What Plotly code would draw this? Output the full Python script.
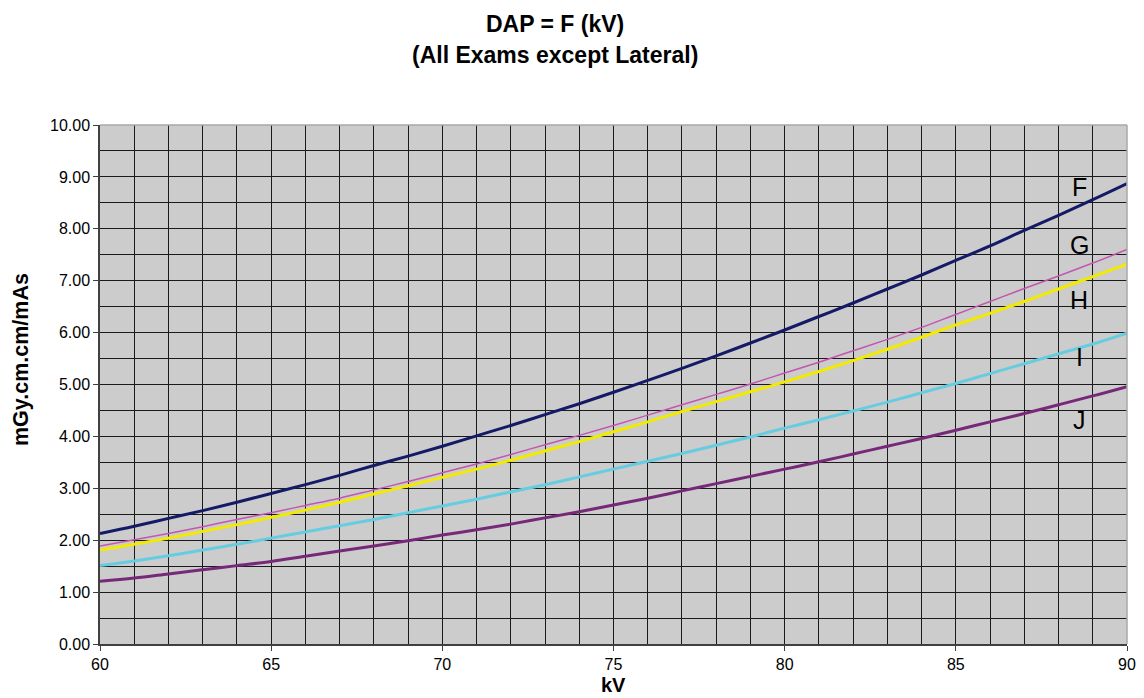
import plotly.graph_objects as go

kv = list(range(60, 91))

F = [2.13, 2.27, 2.42, 2.57, 2.73, 2.90, 3.07, 3.25, 3.44, 3.62, 3.81, 4.01, 4.21, 4.42, 4.63, 4.85,
     5.08, 5.31, 5.55, 5.80, 6.05, 6.31, 6.57, 6.84, 7.11, 7.39, 7.67, 7.97, 8.26, 8.56, 8.87]
G = [1.89, 2.01, 2.13, 2.26, 2.40, 2.53, 2.67, 2.81, 2.97, 3.13, 3.30, 3.47, 3.65, 3.84, 4.02, 4.21,
     4.41, 4.61, 4.81, 5.01, 5.22, 5.43, 5.65, 5.87, 6.10, 6.35, 6.60, 6.85, 7.09, 7.34, 7.60]
H = [1.81, 1.92, 2.04, 2.17, 2.30, 2.44, 2.58, 2.73, 2.89, 3.05, 3.21, 3.37, 3.54, 3.72, 3.90, 4.09,
     4.28, 4.48, 4.67, 4.86, 5.05, 5.25, 5.46, 5.68, 5.91, 6.15, 6.37, 6.60, 6.84, 7.08, 7.32]
I = [1.51, 1.60, 1.70, 1.81, 1.92, 2.04, 2.16, 2.28, 2.40, 2.53, 2.66, 2.79, 2.93, 3.07, 3.22, 3.37,
     3.52, 3.67, 3.83, 3.99, 4.16, 4.32, 4.49, 4.66, 4.84, 5.02, 5.21, 5.40, 5.59, 5.78, 5.99]
J = [1.21, 1.27, 1.35, 1.43, 1.51, 1.59, 1.69, 1.79, 1.89, 1.99, 2.10, 2.20, 2.31, 2.43, 2.55, 2.68,
     2.81, 2.95, 3.09, 3.23, 3.37, 3.51, 3.66, 3.81, 3.96, 4.12, 4.28, 4.44, 4.61, 4.78, 4.96]

series_names = ["F", "G", "H", "I", "J"]
series_values = [F, G, H, I, J]
series_colors = ["#141a66", "#c455b0", "#f2ea00", "#66cce0", "#782878"]
series_widths = [3, 1.5, 3, 3, 3]

label_x = [88.6, 88.6, 88.6, 88.6, 88.6]
label_y = [8.81, 7.69, 6.63, 5.53, 4.32]

yticks = [0, 1, 2, 3, 4, 5, 6, 7, 8, 9, 10]
ytick_labels = ["%.2f" % v for v in yticks]

title_lines = ["DAP = F (kV)", "(All Exams except Lateral)"]
x_title = "kV"
y_title = "mGy.cm.cm/mAs"

FONT = "Liberation Sans, Arial, sans-serif"

fig = go.Figure()
for name, vals, col, w in zip(series_names, series_values, series_colors, series_widths):
    fig.add_trace(go.Scatter(x=kv, y=vals, mode="lines", name=name,
                             line=dict(color=col, width=w, shape="spline"),
                             showlegend=False, hoverinfo="x+y"))

for name, lx, ly in zip(series_names, label_x, label_y):
    fig.add_annotation(x=lx, y=ly, text=name, showarrow=False,
                       font=dict(size=25, color="#000000", family=FONT),
                       xanchor="center", yanchor="middle")

# plot area in figure pixels: left 92, right 1119, top 117, bottom 636 (519 px tall, 1027 px wide)
PW, PH = 1027.0, 519.0
def px(xp):
    return (xp - 92) / PW
def py(yp):
    return (636 - yp) / PH

fig.add_annotation(xref="paper", yref="paper", x=px(547), y=py(16), text="<b>%s</b>" % title_lines[0],
                   showarrow=False, xanchor="center", yanchor="middle",
                   font=dict(size=23, family=FONT, color="#000000"))
fig.add_annotation(xref="paper", yref="paper", x=px(547), y=py(47), text="<b>%s</b>" % title_lines[1],
                   showarrow=False, xanchor="center", yanchor="middle",
                   font=dict(size=23, family=FONT, color="#000000"))
fig.add_annotation(xref="paper", yref="paper", x=px(605), y=py(677), text="<b>%s</b>" % x_title,
                   showarrow=False, xanchor="center", yanchor="middle",
                   font=dict(size=20, family=FONT, color="#000000"))
fig.add_annotation(xref="paper", yref="paper", x=px(13), y=py(352), text="<b>%s</b>" % y_title,
                   showarrow=False, xanchor="center", yanchor="middle", textangle=-90,
                   font=dict(size=21.5, family=FONT, color="#000000"))

fig.update_layout(
    width=1128, height=690,
    margin=dict(l=92, r=9, t=117, b=54),
    paper_bgcolor="#ffffff",
    plot_bgcolor="#cccccc",
    font=dict(family=FONT, color="#000000", size=16),
    xaxis=dict(range=[60, 90], tick0=60, dtick=5, showgrid=True, gridcolor="#1a1a1a", gridwidth=1,
               minor=dict(dtick=1, showgrid=True, gridcolor="#1a1a1a", gridwidth=1),
               ticks="outside", ticklen=5, tickcolor="#404040",
               showline=True, linecolor="#404040", linewidth=1.5, zeroline=False,
               tickfont=dict(size=16), automargin=False),
    yaxis=dict(range=[0, 10], tickvals=yticks, ticktext=ytick_labels,
               showgrid=True, gridcolor="#1a1a1a", gridwidth=1,
               minor=dict(dtick=0.5, showgrid=True, gridcolor="#1a1a1a", gridwidth=1),
               ticks="outside", ticklen=5, tickcolor="#404040",
               showline=True, linecolor="#404040", linewidth=1.5, zeroline=False,
               tickfont=dict(size=16), automargin=False),
)

fig.add_shape(type="line", xref="paper", yref="paper", x0=0, x1=1, y0=1, y1=1,
              line=dict(color="#a8a8a8", width=1.5))
fig.add_shape(type="line", xref="paper", yref="paper", x0=1, x1=1, y0=0, y1=1,
              line=dict(color="#a8a8a8", width=1.5))

fig.write_html("out.html")
